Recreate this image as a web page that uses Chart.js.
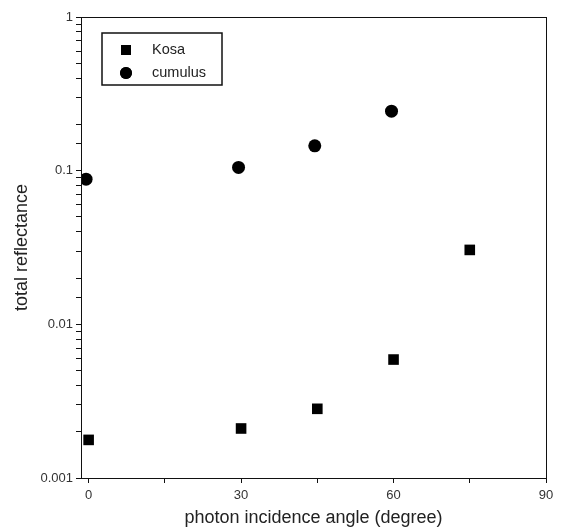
<!DOCTYPE html>
<html>
<head>
<meta charset="utf-8">
<script src="https://cdn.jsdelivr.net/npm/chart.js@4/dist/chart.umd.min.js"></script>
<style>
	html, body { margin: 0; padding: 0; background: #fff; }
	#wrap { width: 565px; height: 532px; }
</style>
</head>
<body>
<div id="wrap"><canvas id="bieuDo"></canvas></div>
<script>
// du lieu doc tu hinh
const kosaAngle = [0, 30, 45, 60, 75]
const kosaReflect = [0.00177, 0.0021, 0.00282, 0.0059, 0.0305]
const cumulusAngle = [-0.5, 29.5, 44.5, 59.6]
const cumulusReflect = [0.088, 0.105, 0.145, 0.244]
const xTicks = [0, 15, 30, 45, 60, 75, 90]
const yLabels = [1, 0.1, 0.01, 0.001]

const toPoints = (xs, ys) => xs.map((x, i) => ({ x: x, y: ys[i] }))
const fontFamily = '"Liberation Sans", Arial, sans-serif'

// khung va chu giai tu ve
const framePlugin = {
	id: 'frame',
	afterDraw(chart) {
		const ctx = chart.ctx
		const a = chart.chartArea
		ctx.save()
		ctx.strokeStyle = '#111'
		ctx.lineWidth = 1
		ctx.strokeRect(a.left + 0.5, a.top + 0.5, a.right - a.left, a.bottom - a.top)
		// legend
		const bx = 102, by = 33, bw = 120, bh = 52
		ctx.lineWidth = 1.5
		ctx.strokeRect(bx, by, bw, bh)
		ctx.font = '14.5px ' + fontFamily
		ctx.textBaseline = 'middle'
		const sizes = [7, 6]
		chart.data.datasets.forEach((ds, i) => {
			const cy = by + 17 + i * 23
			ctx.fillStyle = '#000'
			Chart.helpers.drawPoint(ctx, {
				pointStyle: ds.pointStyle,
				radius: sizes[i],
				borderWidth: 0
			}, bx + 24, cy)
			ctx.fill()
			ctx.fillStyle = '#222'
			ctx.fillText(ds.label, bx + 50, cy)
		})
		ctx.restore()
	}
}

const ctx = document.getElementById('bieuDo').getContext('2d')
new Chart(ctx, {
	type: 'scatter',
	data: {
		datasets: [{
			label: 'Kosa',
			data: toPoints(kosaAngle, kosaReflect),
			pointStyle: 'rect',
			pointRadius: 7.5,
			backgroundColor: '#000',
			borderColor: '#000',
			borderWidth: 0
		}, {
			label: 'cumulus',
			data: toPoints(cumulusAngle, cumulusReflect),
			pointStyle: 'circle',
			pointRadius: 6.5,
			backgroundColor: '#000',
			borderColor: '#000',
			borderWidth: 0
		}]
	},
	options: {
		responsive: true,
		maintainAspectRatio: false,
		animation: false,
		layout: { padding: { top: 17, right: 19, left: 0, bottom: 0 } },
		plugins: {
			legend: { display: false },
			tooltip: { enabled: false }
		},
		scales: {
			x: {
				type: 'linear',
				min: -1.5,
				max: 90,
				afterBuildTicks: scale => {
					scale.ticks = xTicks.map(v => ({ value: v }))
				},
				afterFit: scale => { scale.height = 54 },
				ticks: {
					autoSkip: false,
					maxRotation: 0,
					color: '#333',
					font: { family: fontFamily, size: 13 },
					padding: 5,
					callback: v => (v % 30 === 0 ? String(v) : '')
				},
				grid: { drawOnChartArea: false, tickLength: 5, tickColor: '#111' },
				border: { color: '#111' },
				title: {
					display: true,
					text: 'photon incidence angle (degree)',
					color: '#222',
					font: { family: fontFamily, size: 18 },
					padding: { top: 0, bottom: 3 }
				}
			},
			y: {
				type: 'logarithmic',
				min: 0.001,
				max: 1,
				afterFit: scale => { scale.width = 81 },
				ticks: {
					autoSkip: false,
					color: '#333',
					font: { family: fontFamily, size: 13 },
					padding: 3,
					callback: v => (yLabels.includes(v) ? String(v) : '')
				},
				grid: { drawOnChartArea: false, tickLength: 5, tickColor: '#111' },
				border: { color: '#111' },
				title: {
					display: true,
					text: 'total reflectance',
					color: '#222',
					font: { family: fontFamily, size: 18 },
					padding: { top: 11, bottom: 0 }
				}
			}
		}
	},
	plugins: [framePlugin]
})
</script>
</body>
</html>
